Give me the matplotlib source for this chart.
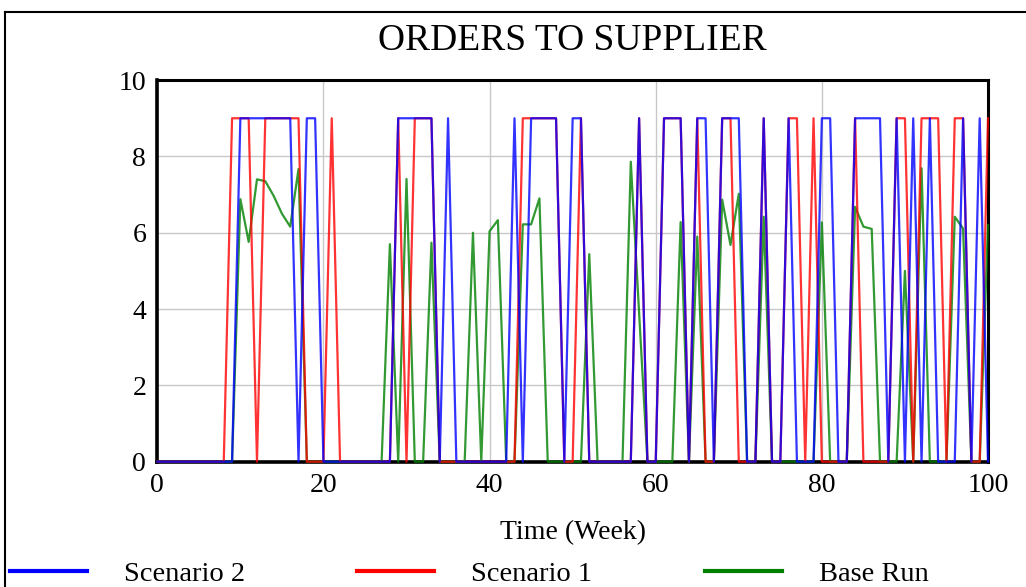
import numpy as np
import matplotlib
matplotlib.use("Agg")
import matplotlib.pyplot as plt
from matplotlib.lines import Line2D

plt.rcParams['font.family'] = ['Liberation Serif', 'DejaVu Serif']

# weekly values, t = 0..100
weeks = np.arange(0, 101)

scenario_2 = [
    0, 0, 0, 0, 0, 0, 0, 0, 0, 0,      # 0-9
    9, 9, 9, 9, 9, 9, 9, 0, 9, 9,      # 10-19
    0, 0, 0, 0, 0, 0, 0, 0, 0, 9,      # 20-29
    9, 9, 9, 9, 0, 9, 0, 0, 0, 0,      # 30-39
    0, 0, 0, 9, 0, 9, 9, 9, 9, 0,      # 40-49
    9, 9, 0, 0, 0, 0, 0, 0, 9, 0,      # 50-59
    0, 9, 9, 9, 0, 9, 9, 0, 9, 9,      # 60-69
    9, 0, 0, 9, 0, 0, 9, 0, 0, 0,      # 70-79
    9, 9, 0, 0, 9, 9, 9, 9, 0, 9,      # 80-89
    0, 9, 0, 9, 0, 0, 0, 9, 0, 9,      # 90-99
    0,                                 # 100
]

scenario_1 = [
    0, 0, 0, 0, 0, 0, 0, 0, 0, 9,
    9, 9, 0, 9, 9, 9, 9, 9, 0, 0,
    0, 9, 0, 0, 0, 0, 0, 0, 0, 9,
    0, 9, 9, 9, 0, 0, 0, 0, 0, 0,
    0, 0, 0, 0, 9, 9, 9, 9, 9, 0,
    0, 9, 0, 0, 0, 0, 0, 0, 9, 0,
    0, 9, 9, 9, 0, 9, 0, 0, 9, 9,
    0, 0, 0, 9, 0, 0, 9, 9, 0, 9,
    0, 0, 0, 0, 9, 0, 0, 0, 0, 9,
    9, 0, 9, 9, 9, 0, 9, 9, 0, 0,
    9,
]

base_run = [
    0, 0, 0, 0, 0, 0, 0, 0, 0, 0,
    6.88, 5.76, 7.40, 7.35, 6.97, 6.5, 6.16, 7.67, 0, 0,
    0, 0, 0, 0, 0, 0, 0, 0, 5.70, 0,
    7.41, 0, 0, 5.74, 0, 0, 0, 0, 6.0, 0,
    6.04, 6.33, 0, 0, 6.22, 6.22, 6.9, 0, 0, 0,
    0, 0, 5.44, 0, 0, 0, 0, 7.86, 3.9, 0,
    0, 0, 0, 6.28, 0, 5.9, 0, 0, 6.87, 5.68,
    7.02, 0, 0, 6.42, 0, 0, 0, 0, 0, 0,
    6.27, 0, 0, 0, 6.68, 6.16, 6.1, 0, 0, 0,
    5.0, 0, 7.69, 0, 0, 0, 6.42, 6.11, 0, 0,
    6.2,
]

series = [
    ("Scenario 2", scenario_2, "#0000ff"),
    ("Scenario 1", scenario_1, "#ff0000"),
    ("Base Run", base_run, "#008000"),
]

W, H = 1026, 587
fig = plt.figure(figsize=(W / 100, H / 100), dpi=100)
ax = fig.add_axes([157.3 / W, 1 - 461.7 / H, (988 - 157.3) / W, (461.7 - 80.1) / H])

# draw green first, blue last so blue sits on top
for name, vals, col in reversed(series):
    ax.plot(weeks, vals, color=col, lw=1.6, alpha=0.8, zorder=3, clip_on=False)

ax.set_xlim(0, 100)
ax.set_ylim(0, 10)
ax.set_xticks(range(0, 101, 20))
ax.set_yticks(range(0, 11, 2))
ax.grid(True, color="#c8c8c8", lw=1.0)
ax.set_axisbelow(True)
ax.tick_params(length=0, labelsize=20, pad=8)
for side, sp in ax.spines.items():
    sp.set_linewidth(2.6 if side in ("left", "bottom") else 2.2)
    sp.set_color("black")

ax.set_xlabel("Time (Week)", fontsize=20, labelpad=16)
fig.text(572 / W, 1 - 41 / H, "ORDERS TO SUPPLIER", fontsize=27,
         ha="center", va="center")

# outer frame (cropped on the right and bottom)
fig.add_artist(Line2D([5 / W, 5 / W], [0, 1 - 12 / H], color="black", lw=1.5))
fig.add_artist(Line2D([5 / W, 1], [1 - 12 / H, 1 - 12 / H], color="black", lw=1.5))

handles = [Line2D([], [], color=col, lw=3) for _, _, col in series]
labels = [name for name, _, _ in series]
fig.legend(handles, labels, loc="center left", bbox_to_anchor=(10 / W, 13 / H),
           ncol=3, frameon=False, fontsize=20.5, handlelength=2.7,
           handletextpad=1.3, columnspacing=3.95, borderpad=0, borderaxespad=0)

fig.savefig("out.png", dpi=100, facecolor="white")
